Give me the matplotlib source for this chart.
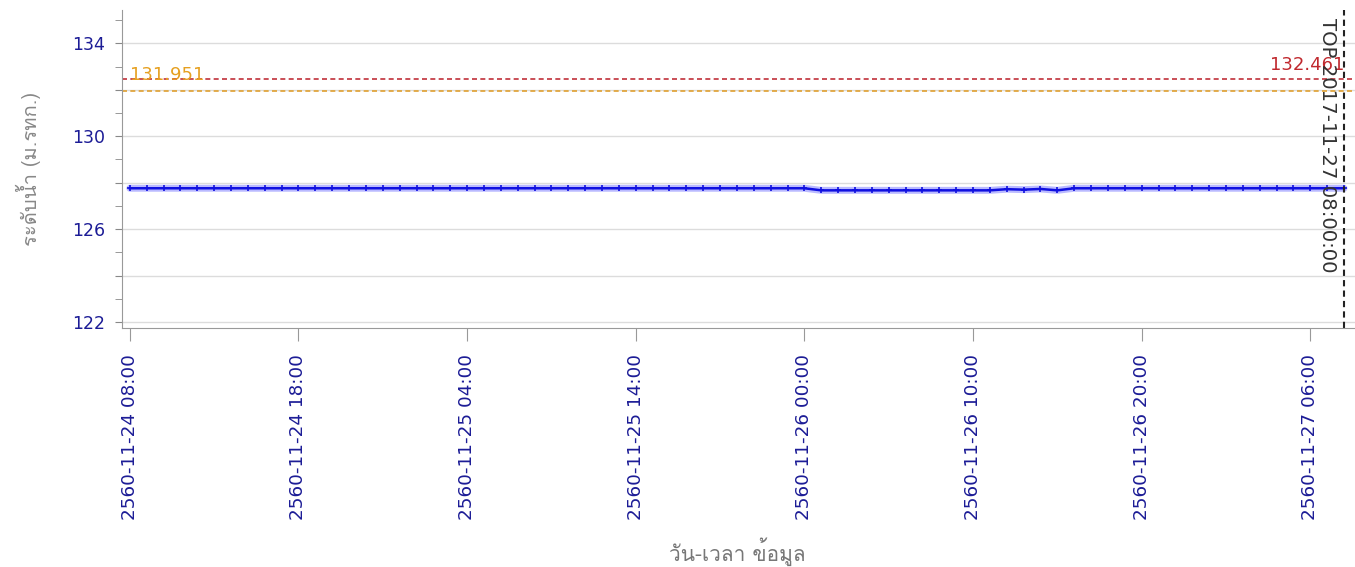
import matplotlib
matplotlib.use('Agg')
import matplotlib.pyplot as plt
import matplotlib.dates as mdates
from matplotlib import font_manager
from matplotlib.ft2font import FT2Font
from matplotlib.ticker import MultipleLocator, FixedLocator, FuncFormatter
import pandas as pd

# dati: livello dell'acqua orario (m.รทก.)
start = '2017-11-24 08:00'
end = '2017-11-27 08:00'
levels = [
    127.76, 127.76, 127.76, 127.76, 127.76, 127.76, 127.76, 127.76, 127.76, 127.76,
    127.76, 127.76, 127.76, 127.76, 127.76, 127.76, 127.76, 127.76, 127.76, 127.76,
    127.76, 127.76, 127.76, 127.76, 127.76, 127.76, 127.76, 127.76, 127.76, 127.76,
    127.76, 127.76, 127.76, 127.76, 127.76, 127.76, 127.76, 127.76, 127.76, 127.76,
    127.76, 127.67, 127.67, 127.67, 127.67, 127.67, 127.67, 127.67, 127.67, 127.67,
    127.67, 127.67, 127.72, 127.70, 127.73, 127.67, 127.76, 127.76, 127.76, 127.76,
    127.76, 127.76, 127.76, 127.76, 127.76, 127.76, 127.76, 127.76, 127.76, 127.76,
    127.76, 127.76, 127.76,
]
top_level = 132.461
mid_level = 131.951
top_time = '2017-11-27 08:00'
tick_times = ['2017-11-24 08:00', '2017-11-24 18:00', '2017-11-25 04:00',
              '2017-11-25 14:00', '2017-11-26 00:00', '2017-11-26 10:00',
              '2017-11-26 20:00', '2017-11-27 06:00']

times = pd.date_range(start, end, freq='h')


# font con glifi thai
def find_thai_font():
    for f in font_manager.fontManager.ttflist:
        try:
            cmap = FT2Font(f.fname).get_charmap()
        except Exception:
            continue
        if 0x0E23 in cmap and 0x0E49 in cmap:
            return f.name
    return 'DejaVu Sans'


thai = find_thai_font()

fig = plt.figure(figsize=(13.55, 5.67), dpi=100)
ax = fig.add_axes([0.090, 0.4215, 0.910, 0.5605])

ax.plot(times, levels, color='#8c8cff', lw=5, alpha=0.6, solid_capstyle='round')
ax.plot(times, levels, color='#1010e0', lw=1.8, marker='+', markersize=5,
        markeredgewidth=1.2)

ax.axhline(top_level, color='#c0303a', ls=(0, (3, 2)), lw=1.2)
ax.axhline(mid_level, color='#e0a030', ls=(0, (3, 2)), lw=1.2)
ax.axvline(pd.Timestamp(top_time), color='#222222', ls=(0, (3, 2)), lw=1.5)

ax.text(pd.Timestamp(start), top_level - 0.05, '131.951', color='#e6a020',
        fontsize=13, ha='left', va='baseline')
ax.text(pd.Timestamp(top_time), 132.84, '132.461', color='#c0282d',
        fontsize=13, ha='right', va='baseline')
ax.text(pd.Timestamp(top_time) - pd.Timedelta(minutes=58), 135.1,
        'TOP 2017-11-27 08:00:00', color='#333333', fontsize=14.2,
        rotation=270, ha='center', va='top')

ax.set_ylim(121.74, 135.43)
ax.set_xlim(pd.Timestamp(start) - pd.Timedelta(minutes=28),
            pd.Timestamp(end) + pd.Timedelta(minutes=39))

ax.yaxis.set_major_locator(MultipleLocator(2))
ax.yaxis.set_minor_locator(MultipleLocator(1))
ax.yaxis.set_major_formatter(FuncFormatter(
    lambda v, p: '%d' % v if int(round(v)) % 4 == 2 else ''))
ax.grid(axis='y', which='major', color='#dcdcdc', lw=1)
ax.set_axisbelow(True)

ax.xaxis.set_major_locator(FixedLocator(mdates.date2num(pd.to_datetime(tick_times))))


def buddhist(x, pos):
    d = mdates.num2date(x)
    return '%d-%02d-%02d %02d:%02d' % (d.year + 543, d.month, d.day, d.hour, d.minute)


ax.xaxis.set_major_formatter(FuncFormatter(buddhist))
plt.setp(ax.get_xticklabels(), rotation=90)

ax.tick_params(axis='y', which='both', colors='#888888', labelcolor='#1c1c96',
               labelsize=12.5, length=5, pad=7)
ax.tick_params(axis='x', colors='#999999', labelcolor='#1c1c96', labelsize=13.2,
               length=9, pad=10)
for s in ['top', 'right']:
    ax.spines[s].set_visible(False)
ax.spines['left'].set_color('#999999')
ax.spines['bottom'].set_color('#999999')

ax.set_ylabel('ระดับน้ำ (ม.รทก.)', family=[thai, 'DejaVu Sans'], color='#888888',
              fontsize=14.5)
ax.set_xlabel('วัน-เวลา ข้อมูล', family=[thai, 'DejaVu Sans'], color='#777777',
              fontsize=15)
ax.yaxis.set_label_coords(-0.066, 0.5)
ax.xaxis.set_label_coords(0.499, -0.66)

plt.savefig('out.png', dpi=100)
